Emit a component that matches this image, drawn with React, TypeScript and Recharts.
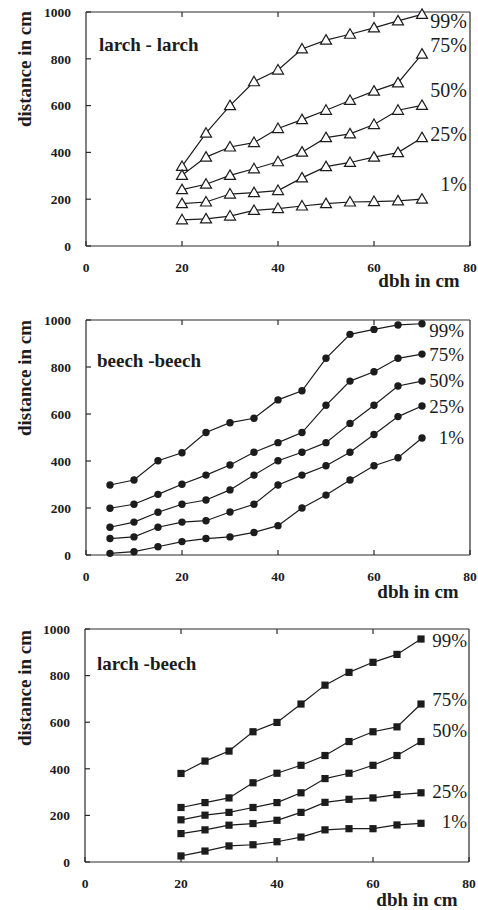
import React from 'react';
import { LineChart, Line, XAxis, YAxis, Label, LabelList } from 'recharts';

// ---------- data ----------
const LL_DBH = [20, 25, 30, 35, 40, 45, 50, 55, 60, 65, 70];
const LL_P99 = [340, 482, 600, 702, 752, 842, 880, 905, 932, 962, 990];
const LL_P75 = [302, 380, 423, 442, 502, 540, 580, 622, 662, 697, 820];
const LL_P50 = [241, 264, 302, 330, 360, 401, 463, 479, 519, 580, 601];
const LL_P25 = [181, 188, 222, 228, 237, 291, 339, 357, 380, 399, 463];
const LL_P01 = [112, 116, 128, 152, 160, 171, 181, 188, 190, 193, 200];

const BB_DBH = [5, 10, 15, 20, 25, 30, 35, 40, 45, 50, 55, 60, 65, 70];
const BB_P99 = [298, 319, 401, 435, 521, 563, 582, 660, 699, 837, 939, 960, 979, 984];
const BB_P75 = [199, 216, 258, 301, 340, 383, 437, 478, 521, 637, 740, 780, 837, 855];
const BB_P50 = [118, 140, 182, 216, 234, 277, 340, 401, 437, 478, 560, 637, 719, 740];
const BB_P25 = [70, 77, 118, 140, 146, 183, 216, 298, 340, 380, 437, 513, 589, 634];
const BB_P01 = [7, 14, 35, 57, 70, 77, 96, 125, 200, 255, 319, 380, 414, 498];

const LB_DBH = [20, 25, 30, 35, 40, 45, 50, 55, 60, 65, 70];
const LB_P99 = [380, 433, 476, 559, 599, 678, 759, 814, 857, 891, 957];
const LB_P75 = [234, 255, 275, 340, 381, 415, 457, 517, 559, 580, 678];
const LB_P50 = [181, 201, 213, 234, 255, 297, 358, 381, 415, 457, 517];
const LB_P25 = [122, 138, 158, 165, 179, 213, 256, 269, 275, 289, 297];
const LB_P01 = [26, 47, 69, 74, 87, 107, 138, 143, 143, 159, 166];

const PCT_LABELS = ['99%', '75%', '50%', '25%', '1%'];
const X_TICKS = [0, 20, 40, 60, 80];
const Y_TICKS = [0, 200, 400, 600, 800, 1000];
const X_INNER_TICKS = [20, 40, 60];
const Y_INNER_TICKS = [200, 400, 600, 800];

const KEYS = ['p99', 'p75', 'p50', 'p25', 'p01'];

function buildRows(dbh: number[], series: number[][]) {
  return dbh.map((d, i) => {
    const row: any = { dbh: d };
    KEYS.forEach((k, j) => (row[k] = series[j][i]));
    return row;
  });
}

const LL_ROWS = buildRows(LL_DBH, [LL_P99, LL_P75, LL_P50, LL_P25, LL_P01]);
const BB_ROWS = buildRows(BB_DBH, [BB_P99, BB_P75, BB_P50, BB_P25, BB_P01]);
const LB_ROWS = buildRows(LB_DBH, [LB_P99, LB_P75, LB_P50, LB_P25, LB_P01]);

// ---------- styles ----------
const FONT = 'Liberation Serif, serif';
const INK = '#1c1c1c';
const AXIS_STROKE = { stroke: '#2a2a2a', strokeWidth: 1.2 };
const TICK_STYLE = { fontSize: 13.5, fontWeight: 'bold', fill: INK, fontFamily: FONT };

type Marker = 'triangle' | 'circle' | 'square';

function makeDot(marker: Marker) {
  return (props: any) => {
    const { cx, cy, index } = props;
    if (cx == null || cy == null) return <g key={`d${index}`} />;
    if (marker === 'triangle') {
      const d = `M${cx},${cy - 5.5} L${cx + 5.5},${cy + 4} L${cx - 5.5},${cy + 4} Z`;
      return <path key={`d${index}`} d={d} fill="#fff" stroke={INK} strokeWidth={1.2} />;
    }
    if (marker === 'circle') {
      return <circle key={`d${index}`} cx={cx} cy={cy} r={3.7} fill={INK} />;
    }
    return <rect key={`d${index}`} x={cx - 3.6} y={cy - 3.6} width={7.2} height={7.2} fill={INK} />;
  };
}

function makePctLabel(text: string, lastIndex: number, dx: number, dy: number, fontSize: number) {
  return (props: any) => {
    const vb = props.viewBox || {};
    const x = props.x ?? vb.x;
    const y = props.y ?? vb.y;
    if (props.index !== lastIndex || x == null || y == null) return null;
    return (
      <text
        x={x + dx}
        y={y + dy}
        textAnchor="end"
        style={{ fontFamily: FONT, fontSize, fill: INK }}
      >
        {text}
      </text>
    );
  };
}

interface PanelProps {
  top: number;
  height: number;
  margin: { top: number; right: number; left: number; bottom: number };
  yAxisWidth: number;
  xAxisHeight: number;
  rows: any[];
  title: string;
  titleDx: number;
  titleDy: number;
  yTitleDy: number;
  xTitleDx: number;
  xTitleDy: number;
  marker: Marker;
  pctDx: number;
  pctDy: number[];
  pctSize: number;
}

const BOLD_TEXT = { fontFamily: FONT, fontWeight: 'bold' as const, fontSize: 19, fill: INK };

function Panel(p: PanelProps) {
  const last = p.rows.length - 1;
  const dot = makeDot(p.marker);
  return (
    <div style={{ position: 'absolute', left: 0, top: p.top, width: 478, height: p.height }}>
      <LineChart width={478} height={p.height} data={p.rows} margin={p.margin}>
        <XAxis
          dataKey="dbh"
          type="number"
          domain={[0, 80]}
          ticks={X_TICKS}
          interval={0}
          height={p.xAxisHeight}
          tickSize={-5}
          tickMargin={21}
          axisLine={AXIS_STROKE}
          tickLine={AXIS_STROKE}
          tick={TICK_STYLE}
        >
          <Label
            content={(lp: any) => {
              const vb = lp.viewBox || {};
              return (
                <text x={vb.x + p.xTitleDx} y={vb.y + p.xTitleDy} textAnchor="middle" style={BOLD_TEXT}>
                  dbh in cm
                </text>
              );
            }}
          />
        </XAxis>
        <XAxis
          xAxisId="top"
          orientation="top"
          mirror
          dataKey="dbh"
          type="number"
          domain={[0, 80]}
          ticks={X_INNER_TICKS}
          interval={0}
          tickSize={5}
          axisLine={AXIS_STROKE}
          tickLine={AXIS_STROKE}
          tickFormatter={() => ''}
        />
        <YAxis
          type="number"
          domain={[0, 1000]}
          ticks={Y_TICKS}
          interval={0}
          width={p.yAxisWidth}
          tickSize={-5}
          tickMargin={20}
          axisLine={AXIS_STROKE}
          tickLine={AXIS_STROKE}
          tick={TICK_STYLE}
        >
          <Label
            content={(lp: any) => {
              const vb = lp.viewBox || {};
              const cx = vb.x + 31;
              const cy = vb.y + p.yTitleDy;
              const plotLeft = vb.x + vb.width;
              return (
                <g>
                  <text
                    x={cx}
                    y={cy}
                    transform={`rotate(-90, ${cx}, ${cy})`}
                    textAnchor="middle"
                    style={BOLD_TEXT}
                  >
                    distance in cm
                  </text>
                  <text x={plotLeft + p.titleDx} y={vb.y + p.titleDy} style={BOLD_TEXT}>
                    {p.title}
                  </text>
                </g>
              );
            }}
          />
        </YAxis>
        <YAxis
          yAxisId="right"
          orientation="right"
          mirror
          type="number"
          domain={[0, 1000]}
          ticks={Y_INNER_TICKS}
          interval={0}
          tickSize={5}
          axisLine={AXIS_STROKE}
          tickLine={AXIS_STROKE}
          tickFormatter={() => ''}
        />
        {KEYS.map((k, j) => (
          <Line
            key={k}
            dataKey={k}
            type="linear"
            stroke={INK}
            strokeWidth={1.2}
            dot={dot}
            activeDot={false}
            isAnimationActive={false}
          >
            <LabelList
              dataKey={k}
              content={makePctLabel(PCT_LABELS[j], last, p.pctDx, p.pctDy[j], p.pctSize)}
            />
          </Line>
        ))}
      </LineChart>
    </div>
  );
}

export default function App() {
  return (
    <div style={{ position: 'absolute', left: 0, top: 0, width: 478, height: 910, background: '#fff' }}>
      <Panel
        top={0}
        height={300}
        margin={{ top: 12, right: 8, left: 0, bottom: 0 }}
        yAxisWidth={86}
        xAxisHeight={54}
        rows={LL_ROWS}
        title="larch - larch"
        titleDx={13}
        titleDy={39}
        yTitleDy={57}
        xTitleDx={333}
        xTitleDy={41}
        marker="triangle"
        pctDx={45}
        pctDy={[14, -2, -8, 3, -8]}
        pctSize={20}
      />
      <Panel
        top={300}
        height={306}
        margin={{ top: 20, right: 8, left: 0, bottom: 6 }}
        yAxisWidth={86}
        xAxisHeight={45}
        rows={BB_ROWS}
        title="beech -beech"
        titleDx={11}
        titleDy={47}
        yTitleDy={58}
        xTitleDx={332}
        xTitleDy={43}
        marker="circle"
        pctDx={42}
        pctDy={[13.5, 7, 6, 7, 6]}
        pctSize={19}
      />
      <Panel
        top={600}
        height={310}
        margin={{ top: 29, right: 9, left: 0, bottom: 0 }}
        yAxisWidth={85}
        xAxisHeight={48}
        rows={LB_ROWS}
        title="larch -beech"
        titleDx={12}
        titleDy={41}
        yTitleDy={59}
        xTitleDx={332}
        xTitleDy={44}
        marker="square"
        pctDx={46}
        pctDy={[8, 2, -4.5, 5, 5]}
        pctSize={19}
      />
    </div>
  );
}
